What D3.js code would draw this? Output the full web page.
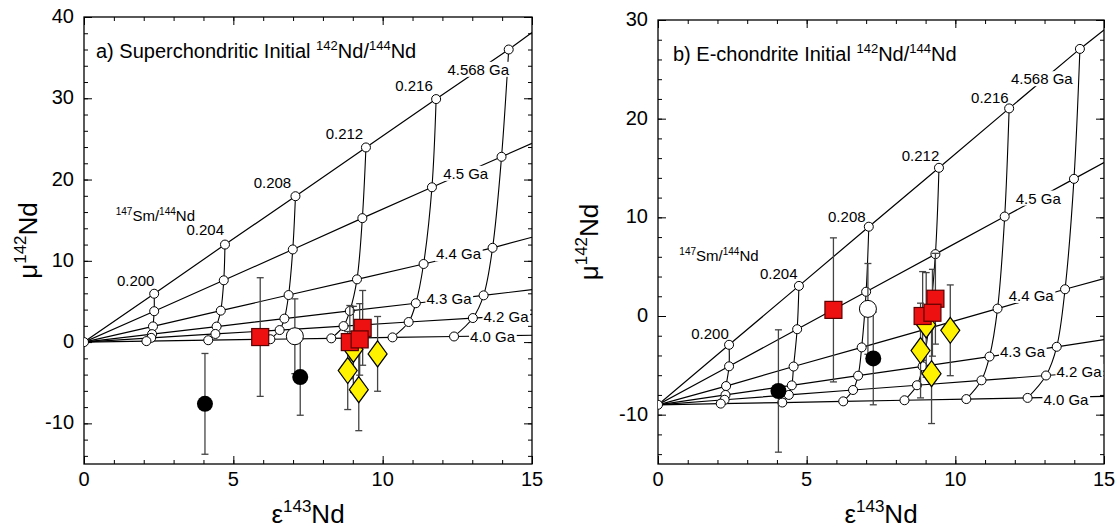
<!DOCTYPE html>
<html>
<head>
<meta charset="utf-8">
<script src="https://cdn.jsdelivr.net/npm/d3@7"></script>
<style>
body { margin: 0; background: #fff; }
svg text { font-family: "Liberation Sans", Arial, Helvetica, sans-serif; fill: #000; }
</style>
</head>
<body>
<svg id="chart" width="1116" height="530"></svg>
<script>
// ---- data ----
var ages = ["4.568 Ga", "4.5 Ga", "4.4 Ga", "4.3 Ga", "4.2 Ga", "4.0 Ga"];
var smnd = ["0.200", "0.204", "0.208", "0.212", "0.216", "0.220"];

// panel a: superchondritic initial
var originA = [0, 0];
var epsA = [
  [2.35, 4.72, 7.08, 9.44, 11.79, 14.22],
  [2.35, 4.68, 6.99, 9.32, 11.65, 13.98],
  [2.31, 4.58, 6.85, 9.14, 11.37, 13.68],
  [2.28, 4.44, 6.71, 8.90, 11.11, 13.38],
  [2.25, 4.40, 6.55, 8.69, 10.87, 13.02],
  [2.09, 4.16, 6.24, 8.28, 10.33, 12.39]
];
var muA = [
  [5.95, 12.0, 17.95, 23.95, 29.9, 36.0],
  [3.8, 7.6, 11.4, 15.25, 19.05, 22.8],
  [1.93, 3.87, 5.79, 7.72, 9.61, 11.6],
  [0.98, 1.91, 2.89, 3.83, 4.78, 5.75],
  [0.52, 1.0, 1.48, 1.97, 2.47, 2.96],
  [0.12, 0.23, 0.35, 0.46, 0.58, 0.69]
];
var edgeA = [38.1, 24.45, 12.9, 6.45, 3.4, 0.84];   // mu where each age line meets eps = 15

// panel b: E-chondrite initial
var originB = [0, -9];
var epsB = [
  [2.39, 4.74, 7.09, 9.45, 11.81, 14.19],
  [2.39, 4.68, 7.00, 9.33, 11.66, 13.99],
  [2.29, 4.56, 6.85, 9.10, 11.42, 13.69],
  [2.27, 4.50, 6.73, 8.90, 11.15, 13.41],
  [2.24, 4.40, 6.56, 8.71, 10.88, 13.05],
  [2.11, 4.18, 6.23, 8.29, 10.37, 12.43]
];
var muB = [
  [-2.92, 3.05, 9.05, 15.02, 21.04, 27.07],
  [-5.1, -1.34, 2.46, 6.27, 10.08, 13.9],
  [-7.1, -5.12, -3.18, -1.25, 0.75, 2.71],
  [-8.0, -7.03, -6.05, -5.1, -4.11, -3.12],
  [-8.49, -8.0, -7.5, -7.02, -6.52, -6.03],
  [-8.88, -8.77, -8.65, -8.54, -8.42, -8.3]
];
var edgeB = [29.0, 15.55, 3.8, -2.4, -5.6, -8.15];

// samples (same in both panels)
var redEps = [5.9, 9.33, 8.9, 9.23];
var redMu = [0.62, 1.75, 0.0, 0.33];
var redErr = [7.3, 4.6, 4.5, 4.4];
var yellowEps = [9.02, 9.83, 8.83, 9.2];
var yellowMu = [-0.9, -1.45, -3.5, -5.85];
var yellowErr = [5.3, 4.6, 4.8, 5.05];
var blackEps = [4.05, 7.24];
var blackMu = [-7.6, -4.3];
var blackErr = [6.2, 4.7];
var openEps = [7.06];
var openMu = [0.72];
var openErr = [4.6];

// ---- layout ----
var panels = [
  {
    id: "a", left: 84, top: 17, w: 448, h: 447, ymin: -15, ymax: 40,
    origin: originA, eps: epsA, mu: muA, edge: edgeA,
    title: ["a) Superchondritic Initial ", "142", "Nd/", "144", "Nd"], titleX: 96,
    yLabelX: 37,
    ageLab: [[13.2, 33.5], [12.78, 20.7], [12.54, 10.8], [12.22, 5.26], [14.13, 3.1], [13.68, 0.62]],
    smLab: [[1.73, 7.5], [4.06, 13.85], [6.31, 19.6], [8.72, 25.6], [11.05, 31.5]],
    ratioLab: [2.39, 15.5]
  },
  {
    id: "b", left: 658, top: 20, w: 446, h: 444, ymin: -15, ymax: 30,
    origin: originB, eps: epsB, mu: muB, edge: edgeB,
    title: ["b) E-chondrite Initial ", "142", "Nd/", "144", "Nd"], titleX: 673,
    yLabelX: 598,
    ageLab: [[12.91, 24.0], [12.79, 11.9], [12.55, 2.03], [12.26, -3.66], [14.16, -5.66], [13.72, -8.47]],
    smLab: [[1.75, -1.86], [4.06, 4.24], [6.35, 10.07], [8.83, 16.2], [11.16, 22.07]],
    ratioLab: [2.05, 6.07]
  }
];

var svg = d3.select("#chart");

function supText(sel, parts, base, supSize) {
  // parts alternate normal / superscript, starting with normal
  var rise = Math.round(base * 0.42);
  parts.forEach(function (p, i) {
    var sup = i % 2 === 1;
    sel.append("tspan")
      .attr("dy", sup ? -rise : (i > 0 ? rise : null))
      .attr("font-size", sup ? supSize : base)
      .text(p);
  });
}

panels.forEach(function (P) {
  var x = d3.scaleLinear().domain([0, 15]).range([0, P.w]);
  var y = d3.scaleLinear().domain([P.ymin, P.ymax]).range([P.h, 0]);
  var g = svg.append("g").attr("transform", "translate(" + P.left + "," + P.top + ")");

  g.append("clipPath").attr("id", "clip" + P.id)
    .append("rect").attr("width", P.w).attr("height", P.h);

  // ticks, inward on all four sides
  var xMajor = [0, 5, 10, 15], xMinor = d3.range(0, 16, 1);
  var yMajor = d3.range(-10, P.ymax + 1, 10), yMinor = d3.range(-14, P.ymax + 1, 2);
  function axes(scale, gen, vals, size, tr) {
    var a = g.append("g").attr("transform", tr)
      .call(gen(scale).tickValues(vals).tickSize(size).tickFormat(""));
    a.select(".domain").remove();
    a.selectAll("line").attr("stroke", "#000").attr("stroke-width", 1);
  }
  axes(x, d3.axisBottom, xMinor, -4, "translate(0," + P.h + ")");
  axes(x, d3.axisBottom, xMajor, -8, "translate(0," + P.h + ")");
  axes(x, d3.axisTop, xMinor, -4, null);
  axes(x, d3.axisTop, xMajor, -8, null);
  axes(y, d3.axisLeft, yMinor, -4, null);
  axes(y, d3.axisLeft, yMajor, -8, null);
  axes(y, d3.axisRight, yMinor, -4, "translate(" + P.w + ",0)");
  axes(y, d3.axisRight, yMajor, -8, "translate(" + P.w + ",0)");

  // tick labels
  g.selectAll(".xl").data(xMajor).enter().append("text")
    .attr("x", function (d) { return x(d); }).attr("y", P.h + 22)
    .attr("text-anchor", "middle").attr("font-size", 20).text(function (d) { return d; });
  g.selectAll(".yl").data(yMajor).enter().append("text")
    .attr("x", -10).attr("y", function (d) { return y(d) + 6; })
    .attr("text-anchor", "end").attr("font-size", 20).text(function (d) { return d; });

  // frame
  g.append("rect").attr("width", P.w).attr("height", P.h)
    .attr("fill", "none").attr("stroke", "#000").attr("stroke-width", 1.3);

  var plot = g.append("g").attr("clip-path", "url(#clip" + P.id + ")");

  // age lines from the initial point through each age's points, out to eps = 15
  var line = d3.line().x(function (d) { return x(d[0]); }).y(function (d) { return y(d[1]); });
  ages.forEach(function (a, i) {
    var pts = [P.origin].concat(P.eps[i].map(function (e, j) { return [e, P.mu[i][j]]; }));
    pts.push([15, P.edge[i]]);
    plot.append("path").attr("d", line(pts))
      .attr("fill", "none").attr("stroke", "#000").attr("stroke-width", 1.2);
  });

  // Sm/Nd curves joining the same ratio across ages
  var curve = d3.line().curve(d3.curveCatmullRom.alpha(0.5))
    .x(function (d) { return x(d[0]); }).y(function (d) { return y(d[1]); });
  smnd.forEach(function (s, j) {
    var pts = ages.map(function (a, i) { return [P.eps[i][j], P.mu[i][j]]; });
    plot.append("path").attr("d", curve(pts))
      .attr("fill", "none").attr("stroke", "#000").attr("stroke-width", 1.1);
  });

  // age labels, masking the lines beneath
  ages.forEach(function (a, i) {
    var lg = g.append("g");
    var t = lg.append("text")
      .attr("x", x(P.ageLab[i][0])).attr("y", y(P.ageLab[i][1]) + 5)
      .attr("text-anchor", "middle").attr("font-size", 15).text(a);
    var bb = t.node().getBBox();
    lg.insert("rect", "text").attr("x", bb.x - 1).attr("y", bb.y + 1)
      .attr("width", bb.width + 2).attr("height", bb.height - 2).attr("fill", "#fff");
  });

  // grid nodes
  var nodes = [P.origin];
  ages.forEach(function (a, i) {
    P.eps[i].forEach(function (e, j) { nodes.push([e, P.mu[i][j]]); });
  });
  plot.selectAll(".node").data(nodes).enter().append("circle")
    .attr("cx", function (d) { return x(d[0]); }).attr("cy", function (d) { return y(d[1]); })
    .attr("r", 4.5).attr("fill", "#fff").attr("stroke", "#000").attr("stroke-width", 1);

  // Sm/Nd labels
  smnd.slice(0, 5).forEach(function (s, j) {
    g.append("text").attr("x", x(P.smLab[j][0])).attr("y", y(P.smLab[j][1]) + 5)
      .attr("text-anchor", "middle").attr("font-size", 15).text(s);
  });
  var rl = g.append("text").attr("x", x(P.ratioLab[0])).attr("y", y(P.ratioLab[1]) + 5)
    .attr("text-anchor", "middle");
  supText(rl, ["", "147", "Sm/", "144", "Nd"], 15, 10);

  // samples
  function bars(eps, mu, err) {
    eps.forEach(function (e, i) {
      var x0 = x(e), y1 = y(mu[i] + err[i]), y2 = y(mu[i] - err[i]);
      var b = plot.append("g").attr("stroke", "#444").attr("stroke-width", 1.3);
      b.append("line").attr("x1", x0).attr("x2", x0).attr("y1", y1).attr("y2", y2);
      b.append("line").attr("x1", x0 - 3.5).attr("x2", x0 + 3.5).attr("y1", y1).attr("y2", y1);
      b.append("line").attr("x1", x0 - 3.5).attr("x2", x0 + 3.5).attr("y1", y2).attr("y2", y2);
    });
  }
  bars(blackEps, blackMu, blackErr);
  bars(openEps, openMu, openErr);
  bars(yellowEps, yellowMu, yellowErr);
  bars(redEps, redMu, redErr);

  blackEps.forEach(function (e, i) {
    plot.append("circle").attr("cx", x(e)).attr("cy", y(blackMu[i])).attr("r", 8).attr("fill", "#000");
  });
  openEps.forEach(function (e, i) {
    plot.append("circle").attr("cx", x(e)).attr("cy", y(openMu[i])).attr("r", 8.5)
      .attr("fill", "#fff").attr("stroke", "#000").attr("stroke-width", 1);
  });
  yellowEps.forEach(function (e, i) {
    var cx = x(e), cy = y(yellowMu[i]);
    plot.append("path")
      .attr("d", "M" + cx + "," + (cy - 13) + "L" + (cx + 9.5) + "," + cy + "L" + cx + "," + (cy + 13) + "L" + (cx - 9.5) + "," + cy + "Z")
      .attr("fill", "#fff200").attr("stroke", "#000").attr("stroke-width", 1.2);
  });
  redEps.forEach(function (e, i) {
    plot.append("rect").attr("x", x(e) - 8.5).attr("y", y(redMu[i]) - 8.5)
      .attr("width", 17).attr("height", 17)
      .attr("fill", "#ee1111").attr("stroke", "#5a0000").attr("stroke-width", 1.2);
  });

  // title
  var tt = svg.append("text").attr("x", P.titleX).attr("y", P.top + 41);
  supText(tt, P.title, 20, 13);

  // axis titles
  var xt = svg.append("text").attr("x", P.left + P.w / 2).attr("y", 523)
    .attr("text-anchor", "middle");
  supText(xt, ["\u03b5", "143", "Nd"], 26, 17);
  var yt = svg.append("text")
    .attr("transform", "translate(" + P.yLabelX + "," + (P.top + P.h / 2) + ") rotate(-90)")
    .attr("text-anchor", "middle");
  supText(yt, ["\u03bc", "142", "Nd"], 26, 17);
});
</script>
</body>
</html>
